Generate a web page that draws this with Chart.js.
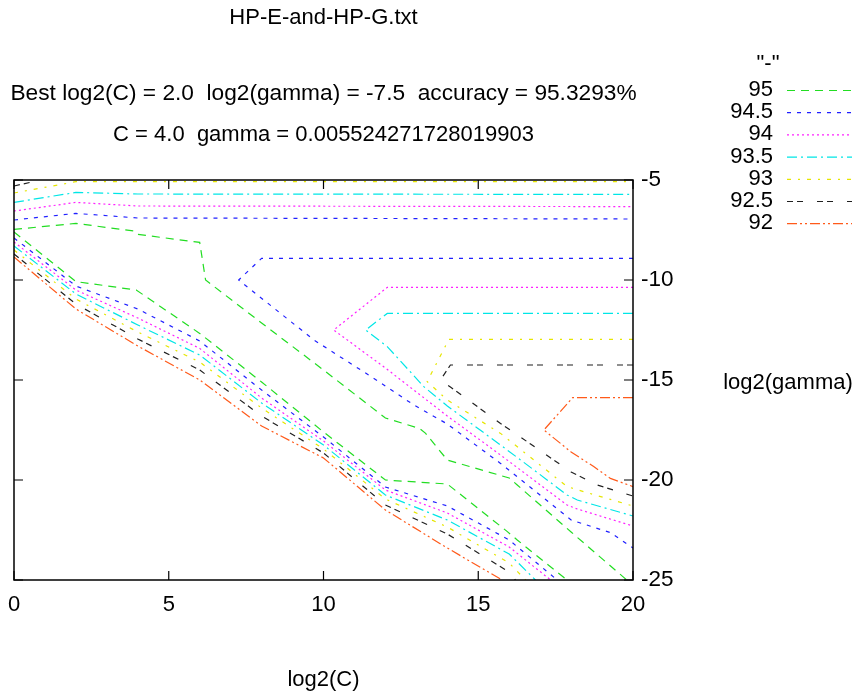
<!DOCTYPE html>
<html>
<head>
<meta charset="utf-8">
<script src="https://cdn.jsdelivr.net/npm/chart.js@4"></script>
<style>
  html, body { margin: 0; padding: 0; background: #fff; }
  #wrap { width: 856px; height: 693px; }
</style>
</head>
<body>
<div id="wrap"><canvas id="grafico" width="856" height="693"></canvas></div>
<script>
// contour levels (legend order)
var levels = ['95', '94.5', '94', '93.5', '93', '92.5', '92'];
var xTicks = [0, 5, 10, 15, 20];
var yTicks = [-5, -10, -15, -20, -25];

// contour lines, [log2(C), log2(gamma)]
var c95Upper = [[0, -7.47], [2, -7.17], [3.87, -7.55], [4.0, -7.72], [6.0, -8.12], [6.19, -10.0], [8, -12.15], [10, -14.5], [12, -16.9], [13.1, -17.42], [13.3, -17.67], [14, -19.0], [16, -19.9], [16.26, -20.25], [18, -22.6], [19.8, -25]];
var c95Lower = [[0, -7.6], [2, -10.08], [3.95, -10.5], [6, -12.67], [8, -15.1], [10, -17.6], [12, -20.0], [14, -20.2], [15.94, -22.58], [16.26, -23.0], [17.87, -25]];

var c945Top = [[0, -7.0], [2, -6.67], [4, -6.9], [20, -6.95]];
var c945Upper = [[20, -8.92], [8, -8.92], [7.26, -10.0], [9.69, -13.0], [11.63, -14.92], [12.92, -16.25], [14, -17.2], [15.72, -19.17], [18, -22.0], [19.27, -22.63], [20, -23.4]];
var c945Lower = [[0, -7.9], [2, -10.3], [4, -11.45], [6, -13.05], [8, -15.5], [10, -17.85], [12, -20.35], [14, -21.3], [16, -23.0], [17.55, -25]];

var c94Top = [[0, -6.55], [2, -6.12], [4, -6.3], [20, -6.33]];
var c94Upper = [[20, -10.37], [12.06, -10.37], [10.33, -12.5], [12, -14.4], [14, -16.8], [15.72, -18.75], [17.87, -21.25], [18.2, -21.45], [20, -22.3]];
var c94Lower = [[0, -8.1], [2, -10.5], [4, -11.9], [6, -13.42], [8, -15.9], [10, -18.05], [12, -20.5], [14, -21.65], [16, -23.35], [17.34, -25]];

var c935Top = [[0, -6.12], [2, -5.62], [4, -5.7], [20, -5.72]];
var c935Upper = [[20, -11.67], [12.06, -11.67], [11.36, -12.5], [12.06, -13.33], [13.24, -15.33], [14, -16.3], [15.72, -18.25], [16.8, -19.5], [17.87, -20.75], [18.2, -21.0], [20, -21.8]];
var c935Lower = [[0, -8.3], [2, -10.7], [4, -12.25], [6, -13.75], [8, -16.15], [10, -18.25], [12, -20.75], [14, -22.0], [16, -23.7], [16.85, -25]];

var c93Top = [[0, -5.65], [1.7, -5.17], [2, -5.08], [20, -5.08]];
var c93Upper = [[20, -12.97], [14.05, -12.97], [13.35, -15.08], [14, -16.0], [15.72, -17.67], [17.87, -20.33], [18.4, -20.58], [20, -21.3]];
var c93Lower = [[0, -8.5], [2, -10.95], [4, -12.6], [6, -14.1], [8, -16.4], [10, -18.45], [12, -20.95], [14, -22.35], [16, -24.15], [16.53, -25]];

var c925Top = [[0, -5.3], [0.8, -5.02]];
var c925Upper = [[20, -14.25], [14.1, -14.25], [13.78, -15.0], [14.1, -15.35], [15.72, -17.17], [16.69, -18.2], [18, -19.6], [18.84, -20.25], [20, -20.8]];
var c925Lower = [[0, -8.7], [2, -11.2], [4, -12.95], [6, -14.5], [8, -16.8], [10, -18.65], [12, -21.25], [14, -22.7], [16, -24.6], [16.2, -25]];

var c92Upper = [[20, -15.88], [18.05, -15.88], [17.12, -17.5], [18, -18.6], [18.73, -19.33], [19.27, -19.92], [20, -20.33]];
var c92Lower = [[0, -8.85], [2, -11.45], [4, -13.3], [6, -15.0], [8, -17.3], [10, -18.9], [12, -21.5], [14, -23.4], [15.77, -25]];

// which segments belong to which level
var segmentos = [
    [c95Upper, c95Lower],
    [c945Top, c945Upper, c945Lower],
    [c94Top, c94Upper, c94Lower],
    [c935Top, c935Upper, c935Lower],
    [c93Top, c93Upper, c93Lower],
    [c925Top, c925Upper, c925Lower],
    [c92Upper, c92Lower]
];

// gnuplot-like line styles
var colores = ['#22dd22', '#2020ff', '#ff20ff', '#00e6e6', '#e6e600', '#202020', '#ff5a1a'];
var guiones = [[8, 6], [4, 6], [2, 3], [10, 4, 2, 4], [4, 7, 2, 7], [6, 4, 6, 14], [10, 3, 2, 3, 2, 3]];

var fuente = '"Liberation Sans", Arial, sans-serif';

var datasets = [];
for (var i in segmentos) {
    for (var j in segmentos[i]) {
        datasets.push({
            label: levels[i],
            data: segmentos[i][j].map(function(p) { return { x: p[0], y: p[1] }; }),
            showLine: true,
            borderColor: colores[i],
            borderWidth: 1.2,
            borderDash: guiones[i],
            pointRadius: 0,
            fill: false,
            tension: 0
        });
    }
}

var textos = {
    id: 'textos',
    afterDraw: function(chart) {
        var ctx = chart.ctx;
        var area = chart.chartArea;
        var sx = chart.scales.x;
        var sy = chart.scales.y;
        ctx.save();

        // border + inward ticks on all sides
        ctx.strokeStyle = '#000';
        ctx.lineWidth = 1.5;
        ctx.setLineDash([]);
        ctx.strokeRect(area.left, area.top, area.right - area.left, area.bottom - area.top);
        ctx.lineWidth = 1.2;
        ctx.beginPath();
        xTicks.forEach(function(v) {
            var px = sx.getPixelForValue(v);
            ctx.moveTo(px, area.bottom); ctx.lineTo(px, area.bottom - 9);
            ctx.moveTo(px, area.top); ctx.lineTo(px, area.top + 9);
        });
        yTicks.forEach(function(v) {
            var py = sy.getPixelForValue(v);
            ctx.moveTo(area.left, py); ctx.lineTo(area.left + 9, py);
            ctx.moveTo(area.right, py); ctx.lineTo(area.right - 9, py);
        });
        ctx.stroke();

        // titles
        ctx.fillStyle = '#000';
        ctx.textAlign = 'center';
        ctx.textBaseline = 'middle';
        var cx = (area.left + area.right) / 2;
        ctx.font = '22px ' + fuente;
        ctx.fillText('HP-E-and-HP-G.txt', cx, 18);
        ctx.font = '22.7px ' + fuente;
        ctx.fillText('Best log2(C) = 2.0  log2(gamma) = -7.5  accuracy = 95.3293%', cx, 94);
        ctx.font = '22px ' + fuente;
        ctx.fillText('C = 4.0  gamma = 0.005524271728019903', cx, 135);
        ctx.fillText('log2(C)', cx, 680);
        ctx.fillText('log2(gamma)', 788, 383);

        // legend
        ctx.fillText('"-"', 768, 64);
        ctx.textAlign = 'right';
        for (var k = 0; k < levels.length; k++) {
            var ly = 90 + k * 22.2;
            ctx.fillStyle = '#000';
            ctx.fillText(levels[k], 773, ly);
            ctx.strokeStyle = colores[k];
            ctx.lineWidth = 1.2;
            ctx.setLineDash(guiones[k]);
            ctx.beginPath();
            ctx.moveTo(787, ly + 0.5);
            ctx.lineTo(852, ly + 0.5);
            ctx.stroke();
        }
        ctx.restore();
    }
};

var grafico = new Chart(document.getElementById('grafico'), {
    type: 'scatter',
    data: { datasets: datasets },
    options: {
        responsive: false,
        animation: false,
        devicePixelRatio: 1,
        layout: { padding: { left: 14, top: 180, right: 0, bottom: 0 } },
        plugins: {
            legend: { display: false },
            tooltip: { enabled: false }
        },
        scales: {
            x: {
                type: 'linear',
                min: 0,
                max: 20,
                afterFit: function(s) { s.height = 113; s.paddingLeft = 0; s.paddingRight = 0; },
                afterBuildTicks: function(s) { s.ticks = xTicks.map(function(v) { return { value: v }; }); },
                grid: { display: false, drawTicks: false },
                border: { display: false },
                ticks: { color: '#000', font: { size: 22, family: fuente }, padding: 12, maxRotation: 0 }
            },
            y: {
                type: 'linear',
                position: 'right',
                min: -25,
                max: -5,
                afterFit: function(s) { s.width = 223; s.paddingTop = 0; s.paddingBottom = 0; },
                afterBuildTicks: function(s) { s.ticks = yTicks.map(function(v) { return { value: v }; }); },
                grid: { display: false, drawTicks: false },
                border: { display: false },
                ticks: { color: '#000', font: { size: 22.5, family: fuente }, padding: 8 }
            }
        }
    },
    plugins: [textos]
});
</script>
</body>
</html>
